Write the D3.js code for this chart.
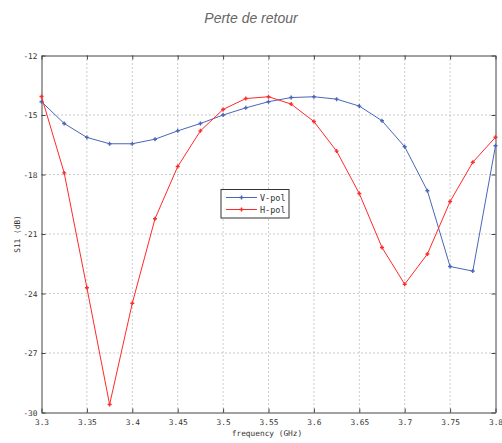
<!DOCTYPE html>
<html><head><meta charset="utf-8">
<script src="https://cdn.jsdelivr.net/npm/d3@7"></script>
<style>body{margin:0;background:#fff;} svg{display:block;}</style>
</head><body>
<svg id="c" width="502" height="443"></svg>
<script>
const freq = [3.3,3.325,3.35,3.375,3.4,3.425,3.45,3.475,3.5,3.525,3.55,3.575,3.6,3.625,3.65,3.675,3.7,3.725,3.75,3.775,3.8];
const vpol = [-14.33,-15.43,-16.13,-16.45,-16.45,-16.22,-15.8,-15.43,-15.0,-14.64,-14.33,-14.12,-14.08,-14.2,-14.55,-15.29,-16.6,-18.82,-22.64,-22.87,-16.55];
const hpol = [-14.07,-17.92,-23.71,-29.6,-24.49,-20.23,-17.6,-15.8,-14.72,-14.17,-14.08,-14.45,-15.33,-16.82,-18.96,-21.68,-23.53,-22.01,-19.36,-17.38,-16.12];
const xTicks = [3.3,3.35,3.4,3.45,3.5,3.55,3.6,3.65,3.7,3.75,3.8];
const yTicks = [-30,-27,-24,-21,-18,-15,-12];
const seriesNames = ["V-pol","H-pol"];
const seriesColors = ["#4a66b8","#ff2a2a"];

const svg = d3.select("#c");
const L=41.5, R=495.5, T=55.5, B=412.5;
const x = d3.scaleLinear().domain([3.3,3.8]).range([L,R]);
const y = d3.scaleLinear().domain([-30,-12]).range([B,T]);
const FONT = "DejaVu Sans Mono, monospace";

svg.append("text").attr("x",251).attr("y",23).attr("text-anchor","middle")
  .attr("font-family","Liberation Sans, Arial, sans-serif").attr("font-style","italic")
  .attr("font-size",14).attr("fill","#666").text("Perte de retour");

// grid
const g = svg.append("g");
xTicks.slice(1,-1).forEach(t=>{
  g.append("line").attr("x1",x(t)).attr("x2",x(t)).attr("y1",T).attr("y2",B)
   .attr("stroke","#999").attr("stroke-width",1).attr("stroke-dasharray","1,3");
});
yTicks.slice(1,-1).forEach(t=>{
  g.append("line").attr("x1",L).attr("x2",R).attr("y1",y(t)).attr("y2",y(t))
   .attr("stroke","#999").attr("stroke-width",1).attr("stroke-dasharray","1,3");
});

const fmtX = d=>String(+d.toFixed(2));
const axB = d3.axisBottom(x).tickValues(xTicks).tickFormat(fmtX).tickSizeInner(-4).tickSizeOuter(0).tickPadding(6.5);
const axL = d3.axisLeft(y).tickValues(yTicks).tickFormat(d=>String(d)).tickSizeInner(-4).tickSizeOuter(0).tickPadding(4);
const axT = d3.axisTop(x).tickValues(xTicks).tickFormat("").tickSizeInner(-4).tickSizeOuter(0);
const axR = d3.axisRight(y).tickValues(yTicks).tickFormat("").tickSizeInner(-4).tickSizeOuter(0);
function style(sel){
  sel.select(".domain").attr("stroke","#444");
  sel.selectAll(".tick line").attr("stroke","#444");
  sel.selectAll("text").attr("font-family",FONT).attr("font-size",7.8).attr("fill","#333");
}
svg.append("g").attr("transform",`translate(0,${B})`).call(axB).call(style);
svg.append("g").attr("transform",`translate(${L},0)`).call(axL).call(style);
svg.append("g").attr("transform",`translate(0,${T})`).call(axT).call(style);
svg.append("g").attr("transform",`translate(${R},0)`).call(axR).call(style);

svg.append("text").attr("x",267).attr("y",436).attr("text-anchor","middle")
  .attr("font-family",FONT).attr("font-size",7.8).attr("fill","#333").text("frequency (GHz)");
svg.append("text").attr("transform","translate(20,234) rotate(-90)").attr("text-anchor","middle")
  .attr("font-family",FONT).attr("font-size",7.8).attr("fill","#333").text("S11 (dB)");

const line = d3.line().x((d,i)=>x(freq[i])).y(d=>y(d));
[vpol,hpol].forEach((s,k)=>{
  svg.append("path").attr("d",line(s)).attr("fill","none").attr("stroke",seriesColors[k]).attr("stroke-width",1);
  svg.append("g").selectAll("path").data(s).join("path")
    .attr("d",(d,i)=>{const cx=x(freq[i]),cy=y(d);return `M${cx-2},${cy}H${cx+2}M${cx},${cy-2}V${cy+2}`;})
    .attr("stroke",seriesColors[k]).attr("stroke-width",1.4);
});

const lg = svg.append("g");
lg.append("rect").attr("x",221).attr("y",189.5).attr("width",68).attr("height",28.5)
  .attr("fill","#fff").attr("stroke","#333").attr("stroke-width",1);
seriesNames.forEach((n,k)=>{
  const yy = 197.5 + k*12;
  lg.append("line").attr("x1",226).attr("x2",257).attr("y1",yy).attr("y2",yy).attr("stroke",seriesColors[k]).attr("stroke-width",1);
  lg.append("path").attr("d",`M${239.5},${yy}H${243.5}M${241.5},${yy-2}V${yy+2}`).attr("stroke",seriesColors[k]).attr("stroke-width",1.4);
  lg.append("text").attr("x",260).attr("y",yy+3).attr("font-family",FONT)
    .attr("font-size",8.5).attr("fill","#333").text(n);
});
</script>
</body></html>
